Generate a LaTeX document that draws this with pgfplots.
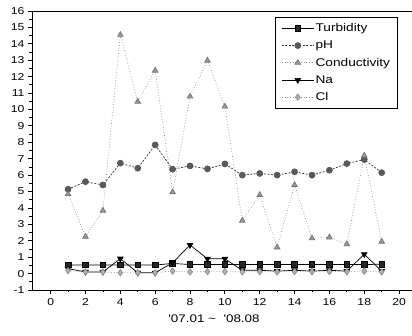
\documentclass[border=0pt]{standalone}
\usepackage{pgfplots}
\pgfplotsset{compat=1.18}
\usetikzlibrary{calc}
\usepackage{fontspec}
\setmainfont{Liberation Sans}
\newfontfamily\widefont{Liberation Sans}[FakeStretch=1.22]
\pgfplotstableread{
x turb ph cond na cl
1 0.52 5.14 4.85 0.30 0.18
2 0.52 5.60 2.25 0.10 0.10
3 0.52 5.40 3.84 0.10 0.10
4 0.52 6.73 14.55 0.91 0.05
5 0.52 6.42 10.48 0.05 0.05
6 0.52 7.84 12.37 0.05 0.05
7 0.62 6.36 4.96 0.66 0.15
8 0.55 6.56 10.79 1.74 0.10
9 0.55 6.38 12.98 0.90 0.12
10 0.55 6.68 10.18 0.90 0.12
11 0.55 6.00 3.23 0.20 0.10
12 0.55 6.10 4.79 0.20 0.12
13 0.55 6.00 1.60 0.15 0.10
14 0.55 6.20 5.40 0.20 0.12
15 0.55 6.00 2.15 0.15 0.12
16 0.55 6.30 2.21 0.20 0.12
17 0.55 6.70 1.79 0.15 0.12
18 0.55 6.95 7.19 1.18 0.15
19 0.57 6.15 1.95 0.15 0.10
}\datatable
\begin{document}
\begin{tikzpicture}
\begin{axis}[
  scale only axis,
  width=380pt, height=279pt,
  xmin=-1.07, xmax=20.74,
  ymin=-1, ymax=16,
  axis x line=box, axis y line=left,
  y axis line style={-},
  tick pos=left,
  tick align=outside,
  xtick={0,2,...,20},
  minor xtick={1,3,...,19},
  ytick={-1,0,...,16},
  minor ytick={-0.5,0.5,...,15.5},
  major tick length=4pt, minor tick length=2.5pt,
  tick style={black, line width=0.8pt},
  axis line style={black, line width=0.9pt},
  /pgf/number format/assume math mode=true,
  ticklabel style={font=\widefont\fontsize{10}{12}\selectfont},
  xticklabel style={yshift=-1pt},
  xlabel={'07.01 \textasciitilde\ \ '08.08},
  xlabel style={font=\widefont\fontsize{11}{13}\selectfont, yshift=-2pt, xshift=-8pt},
  legend style={at={(0.963,0.978)}, anchor=north east, draw=black, line width=0.8pt,
    font=\widefont\fontsize{11.2}{13}\selectfont, row sep=3.8pt,
    inner xsep=6pt, inner ysep=4pt, nodes={inner xsep=1.5pt}},
  legend cell align=left,
  legend image code/.code={\draw[mark repeat=2,mark phase=2,#1] plot coordinates {(0cm,0cm) (0.56cm,0cm) (1.12cm,0cm)};},
  clip=false,
]
\coordinate (bl) at (rel axis cs:0,0);
\addplot[black, line width=0.7pt, mark=square*, mark size=2.8pt, mark options={solid, fill=black!85}] table[x=x,y=turb]{\datatable};
\addlegendentry{Turbidity}
\addplot[black!80, line width=0.7pt, dashed, dash pattern=on 2pt off 1.5pt, mark=*, mark size=3pt, mark options={solid, fill=black!65, draw=black!65}] table[x=x,y=ph]{\datatable};
\addlegendentry{pH}
\addplot[black!45, line width=0.7pt, dotted, mark=triangle*, mark size=3.2pt, mark options={solid, fill=black!40, draw=black!55}] table[x=x,y=cond]{\datatable};
\addlegendentry{Conductivity}
\addplot[black, line width=0.7pt, mark=triangle*, mark size=3.2pt, mark options={solid, rotate=180, fill=black}] table[x=x,y=na]{\datatable};
\addlegendentry{Na}
\addplot[black!45, line width=0.7pt, dotted, mark=diamond*, mark size=3.2pt, mark options={solid, fill=black!30, draw=black!45}] table[x=x,y=cl]{\datatable};
\addlegendentry{Cl}
\end{axis}
\pgfresetboundingbox
\path[use as bounding box] ($(bl)+(-32pt,-46pt)$) rectangle ($(bl)+(380pt,290pt)$);
\end{tikzpicture}
\end{document}
